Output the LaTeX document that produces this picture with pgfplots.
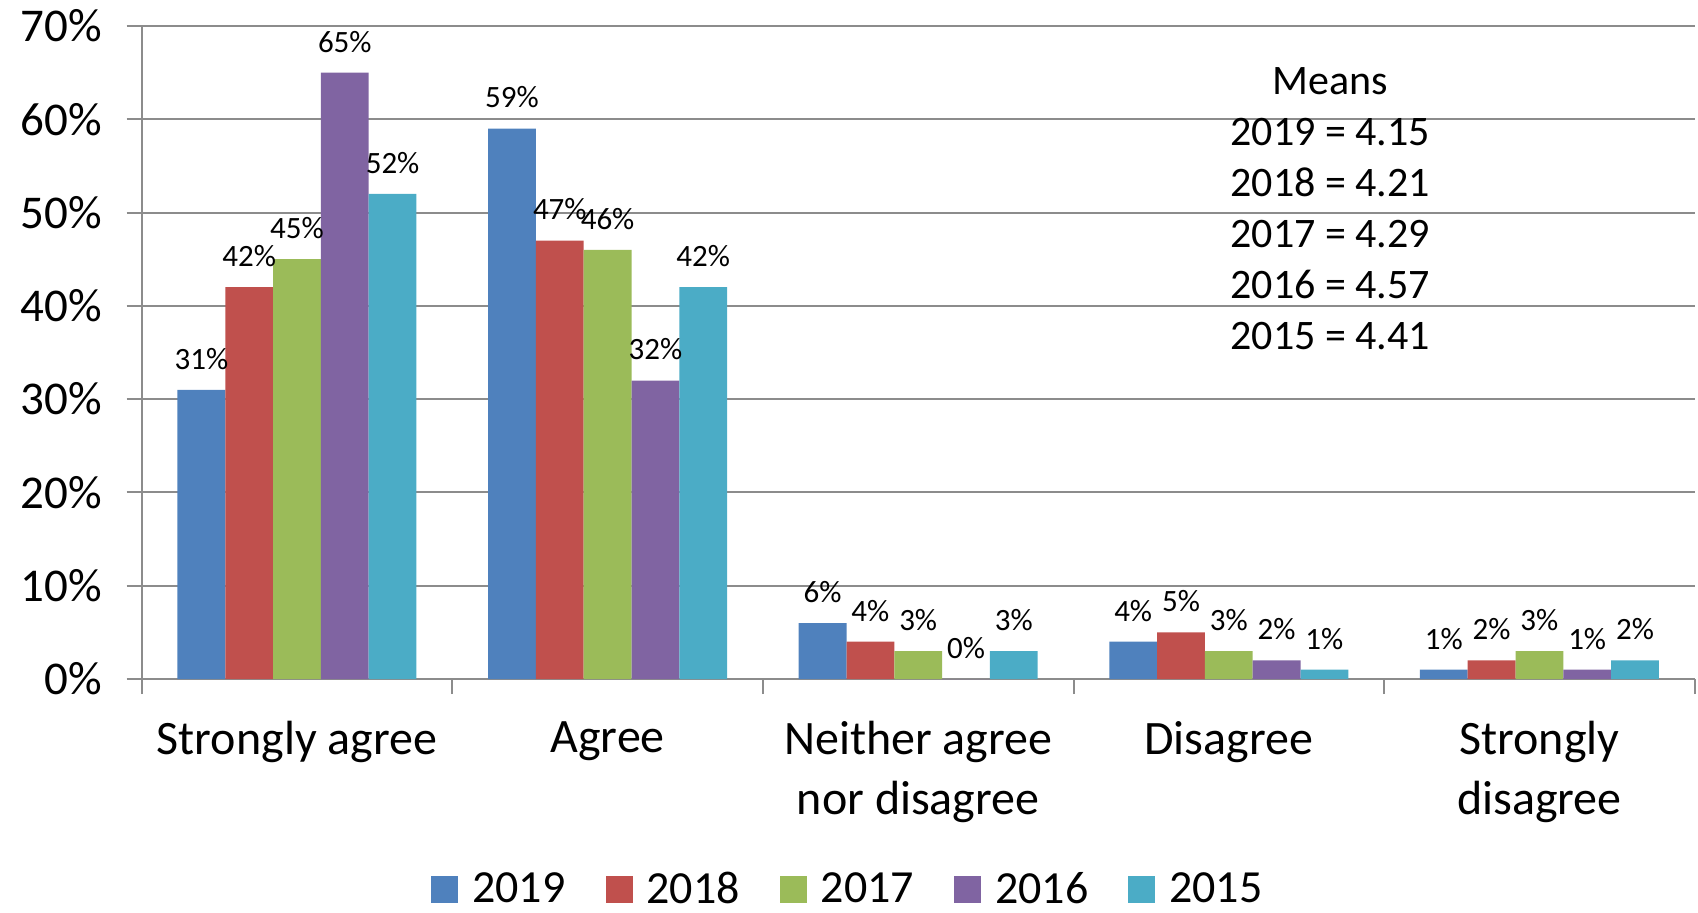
\documentclass[border=0pt]{standalone}
\usepackage{fontspec}
\setmainfont{Carlito}
\usepackage{pgfplots}
\pgfplotsset{compat=1.18}
\definecolor{c19}{HTML}{4F81BD}
\definecolor{c18}{HTML}{C0504D}
\definecolor{c17}{HTML}{9BBB59}
\definecolor{c16}{HTML}{8064A2}
\definecolor{c15}{HTML}{4BACC6}
\definecolor{gridc}{HTML}{8C8C8C}
\begin{document}
\begin{tikzpicture}
\begin{axis}[
  at={(0,0)}, anchor=south west,
  scale only axis, width=776.5pt, height=326.5pt,
  ybar=0pt, bar width=23.9pt,
  xmin=-0.5, xmax=4.5, ymin=0, ymax=70,
  axis x line*=bottom, axis y line*=left,
  axis line style={gridc, line width=1pt},
  tick align=outside, major tick length=7.5pt,
  tick style={gridc, line width=1pt},
  ymajorgrids, grid style={gridc, line width=1pt},
  ytick={0,10,...,70},
  yticklabels={0\%,10\%,20\%,30\%,40\%,50\%,60\%,70\%},
  yticklabel style={font=\fontsize{23.5}{28}\selectfont, inner sep=0pt, xshift=-12.3pt},
  xtick={-0.5,0.5,1.5,2.5,3.5,4.5},
  xticklabels={},
  extra x ticks={0,1,2,3,4},
  extra x tick labels={Strongly agree, Agree, Neither agree\\nor disagree, Disagree, Strongly\\disagree},
  extra x tick style={major tick length=0pt, xticklabel style={font=\fontsize{24}{29.8}\selectfont, align=center, anchor=north, inner sep=0pt, yshift=-21pt}},
  /pgf/number format/assume math mode=true,
  nodes near coords={\pgfmathprintnumber{\pgfplotspointmeta}\%},
  every node near coord/.append style={font=\fontsize{15.5}{18}\selectfont, anchor=south, inner sep=0pt, yshift=10pt, black},
  legend style={at={(0.4554,-0.322)}, anchor=center, draw=none, legend columns=5,
    font=\fontsize{23}{27}\selectfont,
    /tikz/every odd column/.append style={column sep=5pt},
    /tikz/every even column/.append style={column sep=18pt}},
  legend image code/.code={\fill[#1] (0pt,-6.75pt) rectangle (13.5pt,6.75pt);},
]
\addplot[fill=c19, draw=none] coordinates {(0,31) (1,59) (2,6) (3,4) (4,1)};
\addplot[fill=c18, draw=none] coordinates {(0,42) (1,47) (2,4) (3,5) (4,2)};
\addplot[fill=c17, draw=none] coordinates {(0,45) (1,46) (2,3) (3,3) (4,3)};
\addplot[fill=c16, draw=none] coordinates {(0,65) (1,32) (2,0) (3,2) (4,1)};
\addplot[fill=c15, draw=none] coordinates {(0,52) (1,42) (2,3) (3,1) (4,2)};
\legend{2019,2018,2017,2016,2015}
\node[align=center, font=\fontsize{21}{25.5}\selectfont] at (axis cs:3.327,50.37)
  {Means\\2019 = 4.15\\2018 = 4.21\\2017 = 4.29\\2016 = 4.57\\2015 = 4.41};
\end{axis}
\pgfresetboundingbox
\useasboundingbox (-70.85pt,-116.5pt) rectangle (778.15pt,339.5pt);
\end{tikzpicture}
\end{document}
